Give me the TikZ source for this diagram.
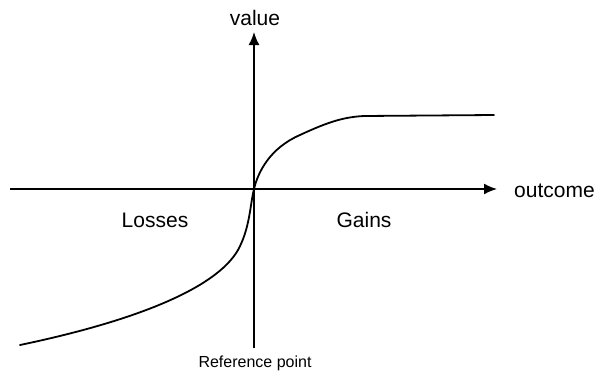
\documentclass[tikz,border=0pt]{standalone}
\usepackage{fontspec}
\setmainfont{Liberation Sans}
\usetikzlibrary{arrows.meta, positioning}

\begin{document}
\begin{tikzpicture}[
  x=1pt, y=-1pt,
  axis/.style={line width=1.6pt, -{Latex[length=13pt, width=11pt]}},
  curve/.style={line width=1.8pt, line join=round, line cap=round},
  lbl/.style={anchor=base, inner sep=0pt, font=\fontsize{21}{25}\selectfont},
  small/.style={anchor=base, inner sep=0pt, font=\fontsize{16}{19}\selectfont}
]
\useasboundingbox (0,0) rectangle (608,370);

\coordinate (origin) at (254,189);
\coordinate (xleft)  at (10,189);
\coordinate (xright) at (497,189);
\coordinate (ybot)   at (254,348);
\coordinate (ytop)   at (254,32);

\draw[axis] (xleft) -- (xright);
\draw[axis] (ybot) -- (ytop);

\node[lbl] (value)   at (255,25)  {value};
\node[lbl, anchor=base west] (outcome) at (514,197) {outcome};
\node[lbl] (losses)  at (155,227) {Losses};
\node[lbl] (gains)   at (364,227) {Gains};
\node[small] (refpt) at (255,367) {Reference point};

\draw[curve] (20,345) .. controls (130,322) and (215,290) .. (238,250)
  .. controls (250,228) and (250,205) .. (origin)
  .. controls (258,172) and (270,148) .. (300,135)
  .. controls (330,121) and (345,117) .. (364,116) -- (494,115);

\end{tikzpicture}
\end{document}
